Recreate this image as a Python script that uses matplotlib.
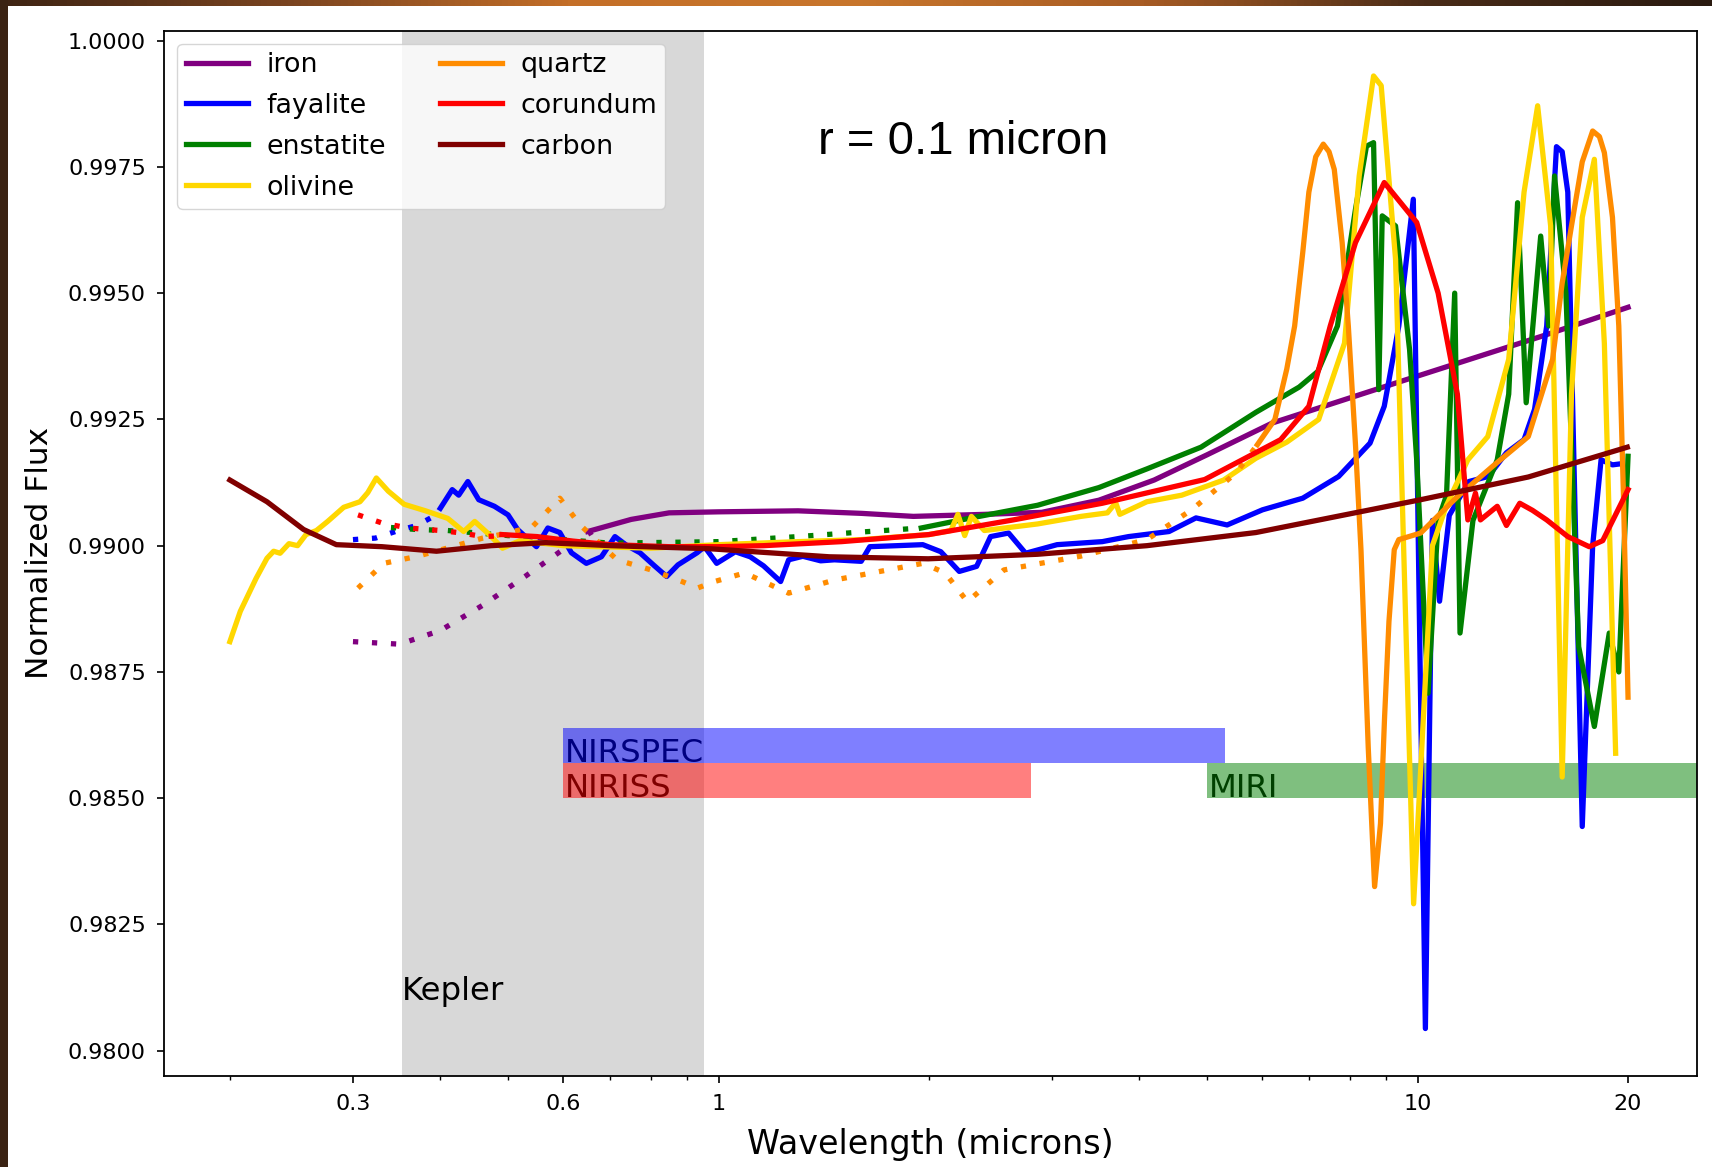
import numpy as np
import matplotlib
matplotlib.use("Agg")
import matplotlib.pyplot as plt
from matplotlib.colors import LinearSegmentedColormap
from matplotlib.patches import Rectangle
from matplotlib.ticker import FormatStrFormatter, MultipleLocator, NullFormatter

# transit depth spectra for 0.1 micron grains, wavelength in microns
iron_dot_wl = [0.30, 0.35, 0.40, 0.46, 0.53, 0.61, 0.66]
iron_dot_fx = [0.98810, 0.98805, 0.98832, 0.98882, 0.98940, 0.99000, 0.99028]
iron_wl = [0.65, 0.75, 0.85, 1.0, 1.3, 1.6, 1.9, 2.4, 2.9, 3.5, 4.2, 5.0, 6.2, 9.5, 12.0, 15.0, 20.0]
iron_fx = [0.99028, 0.99052, 0.99065, 0.99067, 0.99069, 0.99064, 0.99058, 0.99062, 0.99066,
           0.99090, 0.99130, 0.99180, 0.99243, 0.99326, 0.99371, 0.99414, 0.99472]

fay_dot_wl = [0.30, 0.323, 0.345, 0.37, 0.40]
fay_dot_fx = [0.99012, 0.99015, 0.99028, 0.99040, 0.99065]
fay_wl = [0.400, 0.416, 0.425, 0.438, 0.454, 0.478, 0.500, 0.516, 0.549, 0.570, 0.593, 0.616,
          0.647, 0.680, 0.711, 0.740, 0.772, 0.810, 0.843, 0.875, 0.932, 0.955, 0.994, 1.057,
          1.110, 1.160, 1.227, 1.260, 1.320, 1.400, 1.465, 1.600, 1.646, 1.800, 1.960, 2.080,
          2.210, 2.340, 2.450, 2.600, 2.750, 3.050, 3.540, 3.860, 4.410, 4.820, 5.340, 6.000,
          6.850, 7.710, 8.550, 8.960, 9.400, 9.860, 10.26, 10.50, 10.75, 11.10, 11.84, 12.62,
          13.40, 14.20, 14.70, 15.30, 15.80, 16.10, 16.40, 17.20, 17.80, 18.30, 19.00, 19.50]
fay_fx = [0.99074, 0.99111, 0.99100, 0.99127, 0.99091, 0.99078, 0.99061, 0.99032, 0.98998, 0.99035,
          0.99026, 0.98986, 0.98965, 0.98978, 0.99018, 0.99000, 0.98986, 0.98960, 0.98939, 0.98962,
          0.98986, 0.98998, 0.98965, 0.98988, 0.98978, 0.98960, 0.98929, 0.98972, 0.98979, 0.98970,
          0.98972, 0.98969, 0.98998, 0.99000, 0.99002, 0.98988, 0.98949, 0.98959, 0.99018, 0.99025,
          0.98985, 0.99002, 0.99008, 0.99018, 0.99028, 0.99055, 0.99041, 0.99071, 0.99094, 0.99137,
          0.99203, 0.99276, 0.99435, 0.99686, 0.98044, 0.99050, 0.98890, 0.99060, 0.99127, 0.99137,
          0.99184, 0.99210, 0.99270, 0.99435, 0.99790, 0.99780, 0.99700, 0.98444, 0.99000, 0.99170,
          0.99160, 0.99162]

ens_dot_wl = [0.34, 0.37, 0.41, 0.50, 0.70, 1.00, 1.30, 1.60, 1.95]
ens_dot_fx = [0.99036, 0.99032, 0.99030, 0.99020, 0.99005, 0.99008, 0.99018, 0.99027, 0.99035]
ens_wl = [1.95, 2.30, 2.86, 3.50, 4.10, 4.90, 5.87, 6.77, 7.20, 7.68, 8.15, 8.45, 8.65, 8.80,
          8.90, 9.30, 9.74, 9.97, 10.35, 10.70, 11.00, 11.30, 11.50, 12.00, 13.00, 13.50, 13.90,
          14.30, 15.00, 15.40, 15.70, 16.30, 17.00, 17.90, 18.80, 19.40, 20.00]
ens_fx = [0.99035, 0.99055, 0.99080, 0.99115, 0.99152, 0.99195, 0.99264, 0.99314, 0.99345, 0.99435,
          0.99666, 0.99791, 0.99798, 0.99309, 0.99653, 0.99633, 0.99388, 0.99170, 0.98708, 0.99050,
          0.99100, 0.99500, 0.98827, 0.99050, 0.99170, 0.99300, 0.99679, 0.99283, 0.99613, 0.99435,
          0.99732, 0.99500, 0.98800, 0.98642, 0.98827, 0.98750, 0.99177]

oli_wl = [0.200, 0.207, 0.218, 0.226, 0.231, 0.236, 0.243, 0.250, 0.257, 0.266, 0.276, 0.291,
          0.307, 0.315, 0.324, 0.337, 0.355, 0.381, 0.410, 0.432, 0.448, 0.470, 0.491, 0.520,
          0.600, 0.800, 1.000, 1.300, 1.600, 2.000, 2.150, 2.200, 2.250, 2.300, 2.400, 2.860,
          3.300, 3.600, 3.700, 3.750, 4.100, 4.600, 5.280, 5.870, 6.500, 7.220, 7.860, 8.250,
          8.650, 8.870, 9.300, 9.870, 10.50, 11.00, 11.80, 12.60, 13.50, 14.20, 14.85, 15.50,
          16.10, 16.60, 17.20, 17.90, 18.50, 19.20]
oli_fx = [0.98810, 0.98870, 0.98935, 0.98975, 0.98989, 0.98985, 0.99004, 0.99000, 0.99022, 0.99030,
          0.99048, 0.99076, 0.99087, 0.99105, 0.99134, 0.99108, 0.99082, 0.99069, 0.99054, 0.99028,
          0.99048, 0.99022, 0.98995, 0.99010, 0.99000, 0.98995, 0.99002, 0.99008, 0.99012, 0.99022,
          0.99030, 0.99062, 0.99020, 0.99058, 0.99030, 0.99043, 0.99058, 0.99065, 0.99085, 0.99062,
          0.99087, 0.99100, 0.99130, 0.99173, 0.99205, 0.99250, 0.99401, 0.99732, 0.99930, 0.99911,
          0.99567, 0.98291, 0.99000, 0.99080, 0.99170, 0.99216, 0.99369, 0.99700, 0.99871, 0.99633,
          0.98542, 0.99300, 0.99650, 0.99765, 0.99400, 0.98589]

qtz_dot_wl = [0.305, 0.332, 0.371, 0.416, 0.460, 0.500, 0.542, 0.593, 0.634, 0.716, 0.801, 0.887,
              0.933, 0.987, 1.090, 1.260, 1.465, 1.960, 2.110, 2.270, 2.560, 3.290, 4.100, 4.750,
              5.500, 5.900]
qtz_dot_fx = [0.98916, 0.98965, 0.98979, 0.98998, 0.99015, 0.99025, 0.99038, 0.99094, 0.99041, 0.98972,
              0.98952, 0.98929, 0.98916, 0.98929, 0.98946, 0.98906, 0.98932, 0.98965, 0.98946, 0.98889,
              0.98952, 0.98979, 0.99012, 0.99071, 0.99144, 0.99200]
qtz_wl = [5.90, 6.25, 6.50, 6.67, 6.85, 6.99, 7.15, 7.33, 7.47, 7.60, 7.80, 7.96, 8.15, 8.30, 8.50,
          8.68, 8.85, 8.97, 9.10, 9.26, 9.40, 10.10, 11.40, 12.80, 14.40, 15.60, 16.10, 16.60,
          17.20, 17.80, 18.20, 18.50, 19.00, 19.40, 19.70, 20.00]
qtz_fx = [0.99200, 0.99250, 0.99350, 0.99435, 0.99580, 0.99700, 0.99770, 0.99795, 0.99780, 0.99745,
          0.99600, 0.99435, 0.99200, 0.98990, 0.98600, 0.98325, 0.98450, 0.98661, 0.98850, 0.98992,
          0.99012, 0.99025, 0.99097, 0.99157, 0.99216, 0.99369, 0.99520, 0.99633, 0.99760, 0.99821,
          0.99810, 0.99778, 0.99650, 0.99435, 0.99100, 0.98700]

cor_dot_wl = [0.305, 0.33, 0.36, 0.40, 0.43, 0.46, 0.50]
cor_dot_fx = [0.99061, 0.99045, 0.99035, 0.99030, 0.99025, 0.99018, 0.99020]
cor_wl = [0.49, 0.55, 0.62, 0.70, 0.85, 1.00, 1.16, 1.50, 2.00, 2.64, 3.54, 4.96, 6.37, 6.99, 7.50,
          8.15, 8.96, 9.97, 10.70, 11.40, 11.80, 12.10, 12.30, 13.00, 13.40, 14.00, 14.60, 15.30,
          16.40, 17.60, 18.40, 20.00]
cor_fx = [0.99022, 0.99018, 0.99009, 0.99002, 0.98998, 0.98998, 0.99000, 0.99008, 0.99022, 0.99051,
          0.99084, 0.99131, 0.99210, 0.99276, 0.99435, 0.99600, 0.99719, 0.99640, 0.99500, 0.99300,
          0.99051, 0.99104, 0.99051, 0.99078, 0.99040, 0.99084, 0.99070, 0.99051, 0.99018, 0.98998,
          0.99010, 0.99111]

carb_wl = [0.200, 0.226, 0.255, 0.284, 0.330, 0.395, 0.473, 0.566, 0.703, 0.970, 1.440, 1.995,
           2.860, 4.100, 5.870, 8.410, 10.10, 14.40, 19.95]
carb_fx = [0.99130, 0.99087, 0.99032, 0.99002, 0.98998, 0.98989, 0.99000, 0.99006, 0.99000, 0.98994,
           0.98978, 0.98974, 0.98983, 0.99000, 0.99026, 0.99069, 0.99091, 0.99136, 0.99195]

# instrument coverage (microns) and the kepler band
kepler_band = (0.353, 0.954)
instr_names = ["NIRSPEC", "NIRISS", "MIRI"]
instr_lo = [0.6, 0.6, 5.0]
instr_hi = [5.3, 2.8, 28.0]
instr_row = [0.9857, 0.9850, 0.9850]
instr_colors = ["blue", "red", "green"]
bar_height = 0.0007

lw = 3.8
dots = (0, (1, 2.6))

fig = plt.figure(figsize=(17.12, 11.67), dpi=100, facecolor="white")

# slide background showing at the edges
edge_cmap = LinearSegmentedColormap.from_list(
    "edge", ["#3e2414", "#7a4420", "#c46f28", "#c8762c", "#a85c24", "#4a2c18", "#2a1a10"])
band = fig.add_axes([0, 1 - 6 / 1167, 1, 6 / 1167])
band.imshow(np.linspace(0, 1, 256)[None, :], aspect="auto", cmap=edge_cmap)
band.axis("off")
fig.add_artist(Rectangle((0, 0), 8 / 1712, 1, transform=fig.transFigure,
                         facecolor="#3b2313", edgecolor="none"))

ax = fig.add_axes([164 / 1712, 1 - 1076 / 1167, (1697 - 164) / 1712, (1076 - 30.5) / 1167])
ax.set_xscale("log")

ax.axvspan(*kepler_band, color="grey", alpha=0.3, lw=0, zorder=0)
ax.text(kepler_band[0], 0.981, "Kepler", fontsize=23.3, zorder=1)

# labels sit under the translucent bars
for name, lo, hi, row, c in zip(instr_names, instr_lo, instr_hi, instr_row, instr_colors):
    ax.text(lo * 1.005, row + 0.00002, name, fontsize=23.3, va="baseline", zorder=1)
    ax.bar(lo, bar_height, width=hi - lo, bottom=row, align="edge",
           color=c, alpha=0.5, lw=0, zorder=2)

ax.plot(iron_dot_wl, iron_dot_fx, color="purple", lw=lw, ls=dots, zorder=3)
ax.plot(iron_wl, iron_fx, color="purple", lw=lw, label="iron", zorder=3)
ax.plot(fay_dot_wl, fay_dot_fx, color="blue", lw=lw, ls=dots, zorder=3)
ax.plot(fay_wl, fay_fx, color="blue", lw=lw, label="fayalite", zorder=3)
ax.plot(ens_dot_wl, ens_dot_fx, color="green", lw=lw, ls=dots, zorder=3)
ax.plot(ens_wl, ens_fx, color="green", lw=lw, label="enstatite", zorder=3)
ax.plot(oli_wl, oli_fx, color="gold", lw=lw, label="olivine", zorder=3)
ax.plot(qtz_dot_wl, qtz_dot_fx, color="darkorange", lw=lw, ls=dots, zorder=3)
ax.plot(qtz_wl, qtz_fx, color="darkorange", lw=lw, label="quartz", zorder=3)
ax.plot(cor_dot_wl, cor_dot_fx, color="red", lw=lw, ls=dots, zorder=3)
ax.plot(cor_wl, cor_fx, color="red", lw=lw, label="corundum", zorder=3)
ax.plot(carb_wl, carb_fx, color="maroon", lw=lw, label="carbon", zorder=3)

ax.set_xlim(0.161, 25.1)
ax.set_ylim(0.9795, 1.0002)
ax.set_xticks([0.3, 0.6, 1, 10, 20])
ax.set_xticklabels(["0.3", "0.6", "1", "10", "20"])
ax.xaxis.set_minor_formatter(NullFormatter())
ax.yaxis.set_major_locator(MultipleLocator(0.0025))
ax.yaxis.set_major_formatter(FormatStrFormatter("%.4f"))
ax.tick_params(which="major", labelsize=16, length=5, width=1.2, pad=8)
ax.tick_params(which="minor", length=3, width=1.0)
for s in ax.spines.values():
    s.set_linewidth(1.3)

ax.set_xlabel("Wavelength (microns)", fontsize=24, labelpad=10)
ax.set_ylabel("Normalized Flux", fontsize=22.5, labelpad=10)

ax.legend(loc="upper left", ncol=2, fontsize=19.4, handlelength=2.3, borderpad=0.3,
          labelspacing=0.55, handletextpad=0.7, columnspacing=2.0)

fig.text(963 / 1712, 1 - 142 / 1167, "r = 0.1 micron", fontsize=34,
         family="Liberation Sans", ha="center", va="center")

fig.savefig("out.png", dpi=100, facecolor=fig.get_facecolor())
